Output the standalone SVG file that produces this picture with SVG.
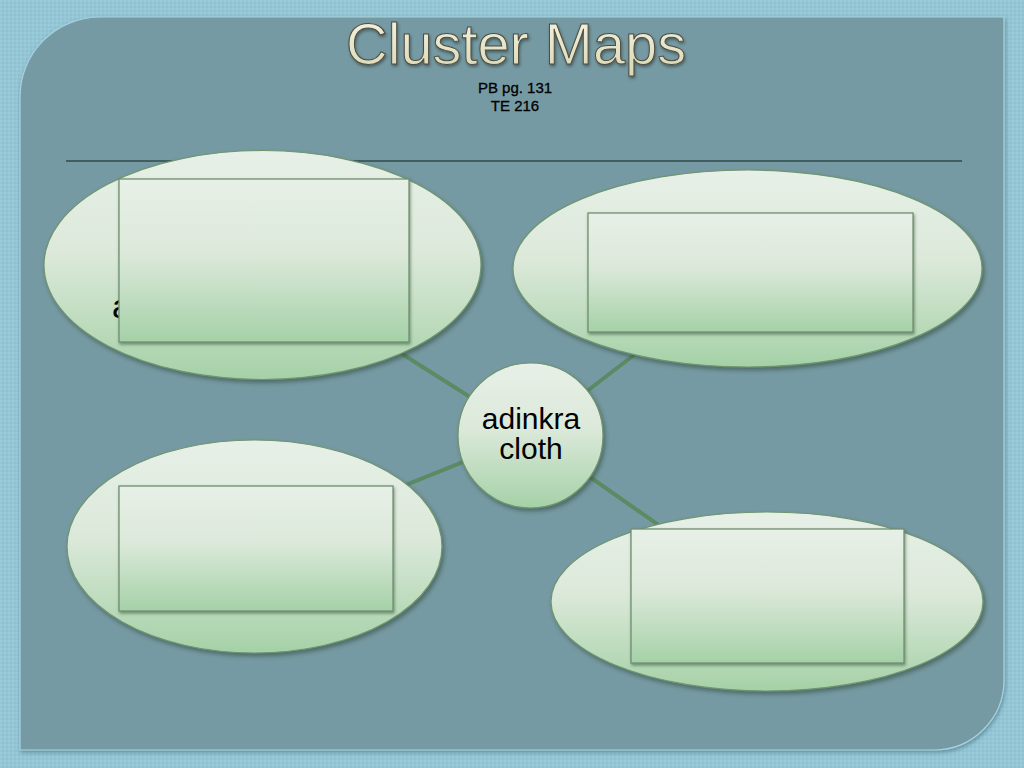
<svg xmlns="http://www.w3.org/2000/svg" width="1024" height="768" viewBox="0 0 1024 768">
  <style>
    .conn { stroke: #5b8a63; stroke-width: 4; fill: none; }
    .bub { fill: url(#gGreen); stroke: #6f9470; stroke-width: 1.2; filter: url(#shadow); }
    .box { fill: url(#gGreen); stroke: #6f8f6f; stroke-width: 1.3; filter: url(#shadowBox); }
    .lbl { font-family: "Liberation Sans", Arial, sans-serif; font-size: 30px; fill: #000; text-anchor: middle; }
    .sub { font-family: "Liberation Sans", Arial, sans-serif; font-size: 15px; fill: #000; stroke: #000; stroke-width: 0.3; text-anchor: middle; }
    .title { font-family: "Liberation Sans", Arial, sans-serif; font-size: 57px; fill: url(#gTitle); stroke: #4d4d42; stroke-width: 1; text-anchor: middle; filter: url(#tshadow); }
  </style>
  <defs>
    <linearGradient id="gGreen" x1="0" y1="0" x2="0" y2="1">
      <stop offset="0" stop-color="#e7f0e7"/>
      <stop offset="0.45" stop-color="#dce9da"/>
      <stop offset="1" stop-color="#a5d1a7"/>
    </linearGradient>
    <linearGradient id="gTitle" x1="0" y1="0" x2="0" y2="1">
      <stop offset="0" stop-color="#f6f5e4"/>
      <stop offset="1" stop-color="#d9d6b2"/>
    </linearGradient>
    <filter id="shadow" x="-10%" y="-10%" width="125%" height="130%">
      <feDropShadow dx="2" dy="3" stdDeviation="2" flood-color="#2e4a3a" flood-opacity="0.55"/>
    </filter>
    <filter id="shadowBox" x="-10%" y="-10%" width="125%" height="130%">
      <feDropShadow dx="1" dy="2" stdDeviation="1.5" flood-color="#3d5a40" flood-opacity="0.6"/>
    </filter>
    <filter id="tshadow" x="-5%" y="-20%" width="110%" height="150%">
      <feDropShadow dx="1" dy="2" stdDeviation="1.5" flood-color="#2a3a3a" flood-opacity="0.6"/>
    </filter>
    <filter id="pshadow" x="-5%" y="-5%" width="110%" height="110%">
      <feDropShadow dx="1" dy="2" stdDeviation="2" flood-color="#3d6a78" flood-opacity="0.6"/>
    </filter>
    <pattern id="dots" width="4" height="4" patternUnits="userSpaceOnUse">
      <rect width="4" height="4" fill="#94c6d6"/>
      <rect width="2" height="2" fill="#9acbdb"/>
      <rect x="2" y="2" width="2" height="2" fill="#8fc1d1"/>
    </pattern>
  </defs>

  <rect id="background" x="0" y="0" width="1024" height="768" fill="url(#dots)"/>
  <path id="panel" d="M20,97 A80,80 0 0 1 100,17 H1004 V680 A70,70 0 0 1 934,750 H20 Z" fill="#769aa3" stroke="#a8d2de" stroke-width="1.2" filter="url(#pshadow)"/>

  <g id="title">
    <text class="title" x="516" y="64" textLength="340" lengthAdjust="spacingAndGlyphs">Cluster Maps</text>
    <text class="sub" x="515" y="93">PB pg. 131</text>
    <text class="sub" x="515" y="111">TE 216</text>
  </g>

  <line id="rule" x1="66" y1="161" x2="962" y2="161" stroke="#2f4a48" stroke-width="1.5"/>

  <g id="connectors">
    <line class="conn" x1="530" y1="435" x2="262" y2="265"/>
    <line class="conn" x1="530" y1="435" x2="747" y2="268"/>
    <line class="conn" x1="530" y1="435" x2="254" y2="546"/>
    <line class="conn" x1="530" y1="435" x2="767" y2="601"/>
  </g>

  <g id="node-top-left">
    <ellipse class="bub" cx="262.5" cy="265" rx="218.5" ry="114.5"/>
    <text x="112" y="318" font-family="Liberation Sans, Arial, sans-serif" font-size="34" fill="#000">a</text>
    <rect class="box" x="119" y="179" width="290" height="163"/>
  </g>

  <g id="node-top-right">
    <ellipse class="bub" cx="747.5" cy="268.5" rx="234.5" ry="98.5"/>
    <rect class="box" x="588" y="213" width="325" height="119"/>
  </g>

  <g id="node-bottom-left">
    <ellipse class="bub" cx="254.5" cy="546.5" rx="187.5" ry="106.5"/>
    <rect class="box" x="119" y="486" width="274" height="125"/>
  </g>

  <g id="node-bottom-right">
    <ellipse class="bub" cx="767" cy="601.5" rx="216" ry="89.5"/>
    <rect class="box" x="631" y="529" width="273" height="134"/>
  </g>

  <g id="node-center">
    <circle class="bub" cx="530.5" cy="435.5" r="72.5"/>
    <text class="lbl" x="531" y="429">adinkra</text>
    <text class="lbl" x="531" y="459">cloth</text>
  </g>
</svg>
